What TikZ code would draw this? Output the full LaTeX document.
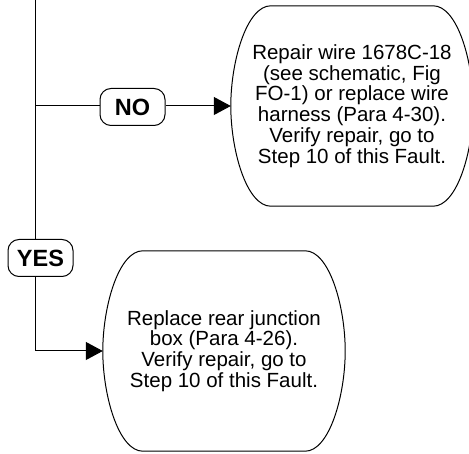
\documentclass[tikz,border=0pt]{standalone}
\usepackage{fontspec}
\setmainfont{Liberation Sans}
\usetikzlibrary{arrows.meta,positioning}

\begin{document}
\begin{tikzpicture}[
    x=1pt, y=1pt,
    line/.style={line width=1pt},
    flow/.style={line width=1pt, -{Triangle[length=17pt, width=18pt]}},
    stepbox/.style={align=center, minimum width=242pt, minimum height=200pt, inner sep=0pt,
        font=\fontsize{20.5pt}{20.8pt}\selectfont},
    answer/.style={draw, line width=1pt, rounded corners=11pt, minimum width=65pt, minimum height=37pt,
        inner sep=0pt, font=\fontsize{23.5pt}{25pt}\selectfont\bfseries}
]
\useasboundingbox (0,0) rectangle (469,-454);
\node[stepbox] (repair) at (352,-106) {Repair wire 1678C-18\\(see schematic, Fig\\FO-1) or replace wire\\harness (Para 4-30).\\Verify repair, go to\\Step 10 of this Fault.};
\node[stepbox] (replace) at (224,-351) {Replace rear junction\\box (Para 4-26).\\Verify repair, go to\\Step 10 of this Fault.};
\node[answer] (no) at (132.5,-107) {NO};
\node[answer] (yes) at (40.5,-258) {YES};
\coordinate (top) at (35,0);
\coordinate (split) at (35,-106);
\coordinate (corner) at (35,-351);
% outlines of the two step boxes
\foreach \n in {repair,replace}
  \draw[line] ([xshift=40pt]\n.north west) -- ([xshift=-40pt]\n.north east)
    .. controls +(24pt,0) and +(0,45pt) .. (\n.east)
    .. controls +(0,-45pt) and +(24pt,0) .. ([xshift=-40pt]\n.south east)
    -- ([xshift=40pt]\n.south west)
    .. controls +(-24pt,0) and +(0,-45pt) .. (\n.west)
    .. controls +(0,45pt) and +(-24pt,0) .. ([xshift=40pt]\n.north west) -- cycle;
\draw[line] (top) -- (top |- yes.north);
\draw[line] (split) -- (split -| no.west);
\draw[flow] (no.east |- split) -- (repair.west);
\draw[flow] (top |- yes.south) -- (corner) -- (replace.west);
\end{tikzpicture}
\end{document}
